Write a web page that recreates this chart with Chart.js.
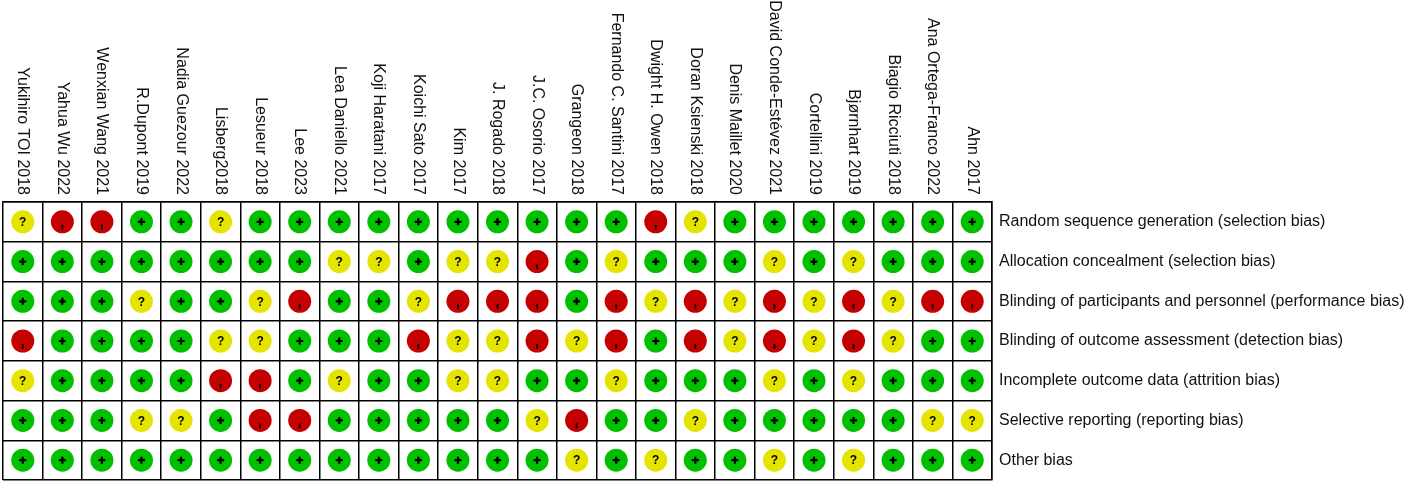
<!DOCTYPE html>
<html>
<head>
<meta charset="utf-8">
<script src="https://cdn.jsdelivr.net/npm/chart.js@4"></script>
<style>
  body { margin: 0; background: #fff; }
  #wrap { width: 1417px; height: 484px; }
</style>
</head>
<body>
<div id="wrap"><canvas id="rob"></canvas></div>
<script>
const studies = [
    'Yukihiro TOI 2018', 'Yahua Wu 2022', 'Wenxian Wang 2021', 'R.Dupont 2019',
    'Nadia Guezour 2022', 'Lisberg2018', 'Lesueur 2018', 'Lee 2023',
    'Lea Daniello 2021', 'Koji Haratani 2017', 'Koichi Sato 2017', 'Kim 2017',
    'J. Rogado 2018', 'J.C. Osorio 2017', 'Grangeon 2018', 'Fernando C. Santini 2017',
    'Dwight H. Owen 2018', 'Doran Ksienski 2018', 'Denis Maillet 2020',
    'David Conde-Estévez 2021', 'Cortellini 2019', 'Bjørnhart 2019',
    'Biagio Ricciuti 2018', 'Ana Ortega-Franco 2022', 'Ahn 2017'
];

const domains = [
    'Random sequence generation (selection bias)',
    'Allocation concealment (selection bias)',
    'Blinding of participants and personnel (performance bias)',
    'Blinding of outcome assessment (detection bias)',
    'Incomplete outcome data (attrition bias)',
    'Selective reporting (reporting bias)',
    'Other bias'
];

// one rating per study, same order as studies: + low, ? unclear, - high
const randomSequence = ['?','-','-','+','+','?','+','+','+','+','+','+','+','+','+','+','-','?','+','+','+','+','+','+','+'];
const allocation     = ['+','+','+','+','+','+','+','+','?','?','+','?','?','-','+','?','+','+','+','?','+','?','+','+','+'];
const blindPersonnel = ['+','+','+','?','+','+','?','-','+','+','?','-','-','-','+','-','?','-','?','-','?','-','?','-','-'];
const blindOutcome   = ['-','+','+','+','+','?','?','+','+','+','-','?','?','-','?','-','+','-','?','-','?','-','?','+','+'];
const incomplete     = ['?','+','+','+','+','-','-','+','?','+','+','?','?','+','+','?','+','+','+','?','+','?','+','+','+'];
const selective      = ['+','+','+','?','?','+','-','-','+','+','+','+','+','?','-','+','+','?','+','+','+','+','+','?','?'];
const otherBias      = ['+','+','+','+','+','+','+','+','+','+','+','+','+','+','?','+','?','+','+','?','+','?','+','+','+'];

const ratings = [randomSequence, allocation, blindPersonnel, blindOutcome, incomplete, selective, otherBias];

const judgements = [
    { sym: '+', color: 'rgb(0,192,0)' },
    { sym: '?', color: 'rgb(228,228,0)' },
    { sym: '-', color: 'rgb(196,0,0)' }
];

const fontFam = '"Liberation Sans", Arial, sans-serif';

function pointsFor(sym) {
    const pts = [];
    ratings.forEach(function(row, r) {
        row.forEach(function(v, c) {
            if (v === sym) pts.push({ x: studies[c], y: domains[r] });
        });
    });
    return pts;
}

const datasets = judgements.map(function(j) {
    return {
        label: j.sym,
        data: pointsFor(j.sym),
        pointRadius: 11.5,
        pointHoverRadius: 11.5,
        pointBorderWidth: 0,
        backgroundColor: j.color,
        borderColor: j.color
    };
});

// draws +, ? and - inside each circle
const symbolPlugin = {
    id: 'symbols',
    afterDatasetsDraw(chart) {
        const ctx = chart.ctx;
        ctx.save();
        ctx.fillStyle = '#000';
        ctx.strokeStyle = '#000';
        chart.data.datasets.forEach(function(ds, d) {
            chart.getDatasetMeta(d).data.forEach(function(pt) {
                const x = pt.x, y = pt.y;
                if (ds.label === '+') {
                    ctx.lineWidth = 2.2;
                    ctx.beginPath();
                    ctx.moveTo(x - 3.5, y); ctx.lineTo(x + 3.5, y);
                    ctx.moveTo(x, y - 3.5); ctx.lineTo(x, y + 3.5);
                    ctx.stroke();
                } else if (ds.label === '?') {
                    ctx.font = 'bold 12px ' + fontFam;
                    ctx.textAlign = 'center';
                    ctx.textBaseline = 'middle';
                    ctx.fillText('?', x, y + 1);
                } else {
                    ctx.lineWidth = 1.8;
                    ctx.beginPath();
                    ctx.moveTo(x, y + 3); ctx.lineTo(x, y + 8);
                    ctx.stroke();
                }
            });
        });
        ctx.restore();
    }
};

// study names, rotated so they read top to bottom
const studyLabelPlugin = {
    id: 'studyLabels',
    afterDraw(chart) {
        const ctx = chart.ctx;
        const xs = chart.scales.x;
        const top = chart.chartArea.top;
        ctx.save();
        ctx.font = '16px ' + fontFam;
        ctx.fillStyle = '#111';
        ctx.textAlign = 'right';
        ctx.textBaseline = 'middle';
        studies.forEach(function(s, i) {
            ctx.save();
            ctx.translate(xs.getPixelForValue(i), top - 7);
            ctx.rotate(Math.PI / 2);
            ctx.fillText(s, 0, 0);
            ctx.restore();
        });
        ctx.restore();
    }
};

new Chart(document.getElementById('rob'), {
    type: 'scatter',
    data: { datasets: datasets },
    options: {
        responsive: true,
        maintainAspectRatio: false,
        animation: false,
        events: [],
        layout: { autoPadding: false, padding: { left: 3, top: 0, right: 0, bottom: 4 } },
        plugins: { legend: { display: false }, tooltip: { enabled: false } },
        scales: {
            x: {
                type: 'category',
                labels: studies,
                position: 'top',
                offset: true,
                grid: { offset: true, color: '#000', lineWidth: 1.5, drawTicks: false },
                border: { color: '#000', width: 1.5 },
                ticks: { display: false },
                afterFit(scale) {
                    scale.height = 202;
                    scale.paddingLeft = 0;
                    scale.paddingRight = 0;
                }
            },
            y: {
                type: 'category',
                labels: domains,
                position: 'right',
                offset: true,
                grid: { offset: true, color: '#000', lineWidth: 1.5, drawTicks: false },
                border: { color: '#000', width: 1.5 },
                ticks: { color: '#111', padding: 7, font: { size: 16, family: fontFam } },
                afterFit(scale) {
                    scale.width = 425;
                    scale.paddingTop = 0;
                    scale.paddingBottom = 0;
                }
            }
        }
    },
    plugins: [symbolPlugin, studyLabelPlugin]
});
</script>
</body>
</html>
